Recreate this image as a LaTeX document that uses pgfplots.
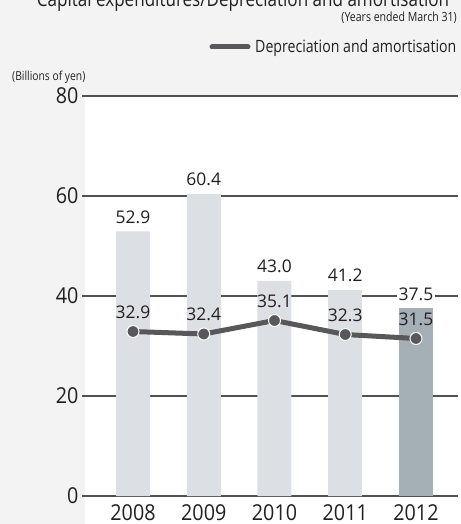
\documentclass[border=0pt]{standalone}
\usepackage{pgfplots}
\pgfplotsset{compat=1.18}
\usepackage{fontspec}
\setmainfont{Open Sans}
\newfontfamily\condfont[FakeStretch=0.835]{Open Sans}
\newfontfamily\numfont[FakeStretch=0.9]{Open Sans}
\definecolor{bg}{HTML}{F3F3F3}
\definecolor{barlight}{HTML}{DCE0E4}
\definecolor{bardark}{HTML}{A5AFB6}
\definecolor{linegray}{HTML}{58585A}
\definecolor{gridgray}{HTML}{505050}
\definecolor{txt}{HTML}{231F20}
\pgfkeys{/pgf/number format/assume math mode=true}
\begin{document}
\begin{tikzpicture}[x=1bp,y=1bp]
\fill[bg] (-82,-28) rectangle (379,496);
\fill[white] (3,-28) rectangle (379,400);
\begin{axis}[
  at={(0,0)}, anchor=south west,
  scale only axis, width=376bp, height=400bp,
  xmin=-0.721, xmax=4.594, ymin=0, ymax=80,
  axis line style={draw=none},
  major tick length=0pt,
  ytick={0,20,40,60,80},
  ymajorgrids,
  grid style={color=gridgray, line width=1.2bp},
  xtick={0,1,2,3,4},
  xticklabels={2008,2009,2010,2011,2012},
  ticklabel style={font=\numfont\fontsize{22}{22}\selectfont, text=txt},
  xticklabel style={anchor=base, yshift=-24bp},
  yticklabel style={anchor=east},
  clip=false,
]
\addplot[ybar, bar width=34bp, bar shift=0pt, fill=barlight, draw=none,
  nodes near coords={\pgfmathprintnumber[fixed,fixed zerofill,precision=1]{\pgfplotspointmeta}},
  every node near coord/.style={anchor=base, yshift=8bp, fill=white, inner sep=1.5bp, text=txt, font=\fontsize{17.5}{17.5}\selectfont}]
  coordinates {(0,52.9) (1,60.4) (2,43.0) (3,41.2)};
\addplot[ybar, bar width=34bp, bar shift=0pt, fill=bardark, draw=none,
  nodes near coords={\pgfmathprintnumber[fixed,fixed zerofill,precision=1]{\pgfplotspointmeta}},
  every node near coord/.style={anchor=base, yshift=8bp, fill=white, inner sep=1.5bp, text=txt, font=\fontsize{17.5}{17.5}\selectfont}]
  coordinates {(4,37.5)};
\addplot[color=linegray, line width=5bp, mark=*, mark size=6bp,
  mark options={fill=linegray, draw=white, line width=1bp},
  nodes near coords={\pgfmathprintnumber[fixed,fixed zerofill,precision=1]{\pgfplotspointmeta}},
  every node near coord/.style={anchor=base, yshift=13bp, text=txt, font=\fontsize{17.5}{17.5}\selectfont}]
  coordinates {(0,32.9) (1,32.4) (2,35.1) (3,32.3) (4,31.5)};
\end{axis}
\node[anchor=base, text=txt, font=\condfont\fontsize{20.5}{20.5}\selectfont] at (161,489) {Capital expenditures/Depreciation and amortisation};
\node[anchor=base east, text=txt, inner sep=0pt, font=\condfont\fontsize{12.7}{12.7}\selectfont] at (375,474) {(Years ended March 31)};
\draw[linegray, line width=5bp, line cap=round] (130,449) -- (166,449);
\node[anchor=base west, text=txt, inner sep=0pt, font=\condfont\fontsize{17}{17}\selectfont] at (173,443) {Depreciation and amortisation};
\node[anchor=base west, text=txt, inner sep=0pt, font=\condfont\fontsize{12.4}{12.4}\selectfont] at (-70,415) {(Billions of yen)};
\pgfresetboundingbox
\useasboundingbox (-82,-28) rectangle (379,496);
\end{tikzpicture}
\end{document}
